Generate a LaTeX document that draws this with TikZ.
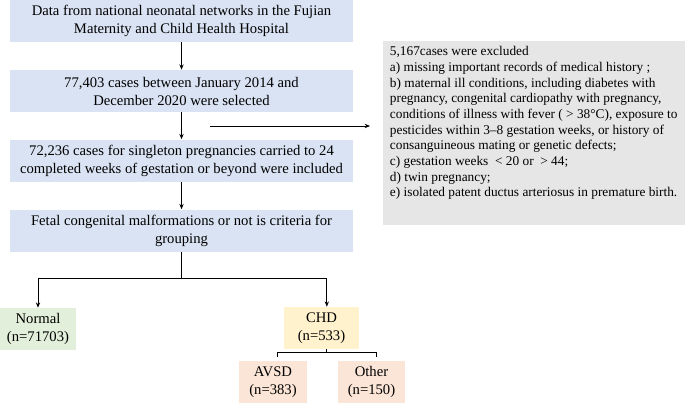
\documentclass[tikz,border=0pt]{standalone}
\usepackage{fontspec}
\setmainfont{Liberation Serif}
\usepackage{tikz}
\usetikzlibrary{arrows.meta, positioning}
\definecolor{stepblue}{HTML}{DAE3F3}
\definecolor{exclgrey}{HTML}{E7E6E6}
\definecolor{normgreen}{HTML}{E2EFDA}
\definecolor{chdyellow}{HTML}{FFF2CC}
\definecolor{subpink}{HTML}{FBE5D6}
\tikzstyle{arrow} = [line width=0.6pt,->,>={Stealth[length=4pt,width=3.2pt]}]
\tikzstyle{line} = [line width=0.6pt]
\tikzstyle{flowbox} = [fill=stepblue, minimum width=257pt, minimum height=31.5pt, align=center, inner sep=1pt, font=\rmfamily\fontsize{11}{13.5}\selectfont]
\tikzstyle{groupbox} = [align=center, inner sep=1pt, font=\rmfamily\fontsize{11}{13.5}\selectfont]

\begin{document}
\begin{tikzpicture}[x=0.75pt, y=-0.75pt]
    \useasboundingbox (0,0) rectangle (685,403);

    % Main flow
    \node[flowbox] (data) at (181.5, 21) {Data from national neonatal networks in the Fujian\\Maternity and Child Health Hospital};
    \node[flowbox] (sel) at (181.5, 91) {77,403 cases between January 2014 and\\December 2020 were selected};
    \node[flowbox] (inc) at (181.5, 160.5) {72,236 cases for singleton pregnancies carried to 24\\completed weeks of gestation or beyond were included};
    \node[flowbox] (grp) at (181.5, 230.5) {Fetal congenital malformations or not is criteria for\\grouping};

    % Exclusions
    \node[fill=exclgrey, anchor=north west, inner xsep=5pt, inner ysep=4pt] (excl) at (383, 41) {\parbox[t][130pt][t]{216pt}{\rmfamily\fontsize{10}{11.75}\selectfont\raggedright
        5,167cases were excluded\\
        a) missing important records of medical history ;\\
        b) maternal ill conditions, including diabetes with\\
        pregnancy, congenital cardiopathy with pregnancy,\\
        conditions of illness with fever ( > 38°C), exposure to\\
        pesticides within 3–8 gestation weeks, or history of\\
        consanguineous mating or genetic defects;\\
        c) gestation weeks \ < 20 or \ > 44;\\
        d) twin pregnancy;\\
        e) isolated patent ductus arteriosus in premature birth.}};
    \coordinate (exfrom) at (210, 126);
    \coordinate (exto) at (370, 126);

    % Groups
    \node[groupbox, fill=normgreen, minimum width=57pt, minimum height=31.5pt] (normal) at (38, 329) {Normal\\(n=71703)};
    \node[groupbox, fill=chdyellow, minimum width=56.25pt, minimum height=31.5pt] (chd) at (321.5, 328) {CHD\\(n=533)};
    \node[groupbox, fill=subpink, minimum width=51pt, minimum height=31.5pt] (avsd) at (273, 382) {AVSD\\(n=383)};
    \node[groupbox, fill=subpink, minimum width=50pt, minimum height=31.5pt] (oth) at (371.5, 382) {Other\\(n=150)};

    % Arrows
    \draw[arrow] (data) -- (sel);
    \draw[arrow] (sel) -- (inc);
    \draw[arrow] (inc) -- (grp);
    \draw[arrow] (exfrom) -- (exto);
    \draw[line] (grp.south) -- (181.5, 278) coordinate (split);
    \draw[arrow] (split) -| (normal.north);
    \draw[arrow] (split) -| ([xshift=4pt]chd.north);
    \draw[line] ([xshift=4pt]chd.south) -- ++(0, 3) coordinate (fork);
    \draw[line] ([xshift=3.6pt, yshift=3pt]avsd.north) |- (fork) -| ([xshift=3.4pt, yshift=3pt]oth.north);
\end{tikzpicture}
\end{document}
